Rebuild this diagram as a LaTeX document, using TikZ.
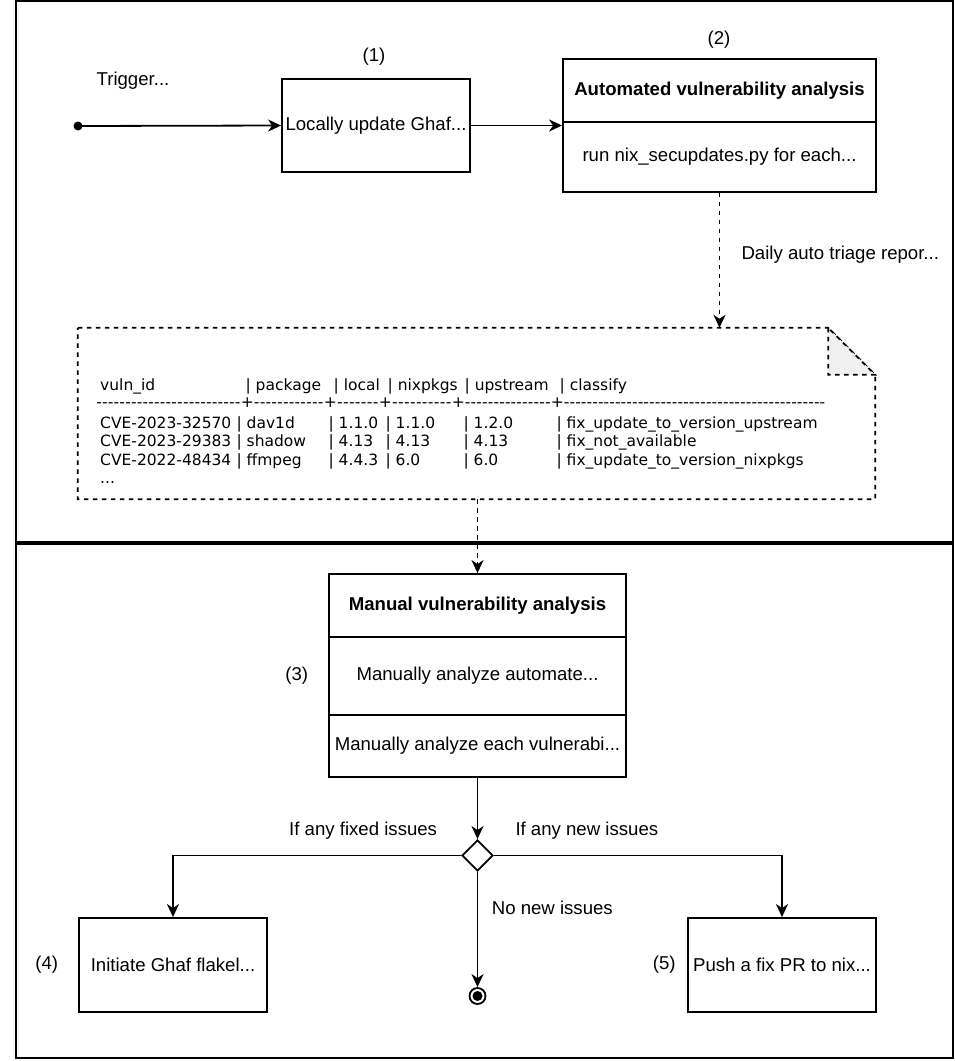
\documentclass[tikz,border=0pt]{standalone}
\usepackage{fontspec}
\setmainfont{Liberation Sans}
\newfontfamily\tablefont{DejaVu Sans}
\usetikzlibrary{arrows.meta,shapes.geometric}

\newcommand{\flowsize}{\fontsize{18.6}{22}\selectfont}
\newcommand{\tabsize}{\tablefont\fontsize{15.5}{18}\selectfont}
\newcommand{\dashrun}[1]{\hbox to #1pt{\xleaders\hbox{-}\hfill}}
\newcommand{\cverow}[6]{\makebox[136.4pt][l]{#1}\makebox[92pt][l]{| #2}\makebox[57pt][l]{| #3}\makebox[78pt][l]{| #4}\makebox[93pt][l]{| #5}| #6}

\tikzset{
  every node/.style={font=\flowsize},
  frame/.style={draw,line width=1.8pt,inner sep=0pt},
  box/.style={draw,line width=1.8pt,inner sep=0pt,minimum width=188pt,minimum height=94pt},
  part/.style={draw,line width=1.8pt,inner sep=0pt},
  flow/.style={-{Stealth[length=13pt,width=12pt,inset=4pt]},line width=1.8pt},
  dashflow/.style={flow,dash pattern=on 4.5pt off 4.5pt},
  tabline/.style={anchor=base west,inner sep=0pt,font=\tabsize},
  startpt/.style={circle,fill,inner sep=0pt,minimum size=9pt},
  endpt/.style={circle,draw,line width=1.8pt,inner sep=0pt,minimum size=16pt,
    path picture={\fill (path picture bounding box.center) circle (5pt);}},
  decision/.style={diamond,draw,line width=1.8pt,inner sep=0pt,minimum width=31pt,minimum height=31pt}
}

\begin{document}
\begin{tikzpicture}[x=1pt,y=-1pt]
\useasboundingbox (0,0) rectangle (955,1061);

\node [frame,minimum width=937pt,minimum height=541pt] (vuln-top) at (484.5,271.5){};
\node [frame,minimum width=937pt,minimum height=514pt] (vuln-bottom) at (484.5,801){};



\node [startpt] (vuln-start) at (78,126){};
\node [] (vuln-trigger) at (133,81){Trigger...};

\node [] (vuln-step-1) at (374,57){(1)};
\node [box,minimum height=93pt] (vuln-update) at (376,125.5){Locally update Ghaf...};
\draw [flow]   (vuln-start.center) -- (vuln-update.west);

\node [] (vuln-step-2) at (719,40){(2)};
\node [part,minimum width=313pt,minimum height=63pt] (vuln-auto-title) at (719.5,90.5){\bfseries Automated vulnerability analysis};
\node [part,minimum width=313pt,minimum height=70pt] (vuln-auto-body) at (719.5,157){run nix\_secupdates.py for each...};
\draw [flow]   (vuln-update.east) -- (vuln-update.east -| vuln-auto-body.west);



\node [minimum width=797pt,minimum height=171pt,inner sep=0pt] (vuln-report) at (476.5,413.5){};
\draw [line width=1.8pt,dash pattern=on 4.5pt off 4.5pt]   (vuln-report.north west) -- ([xshift=-47pt]vuln-report.north east) -- ([yshift=-47pt]vuln-report.north east) -- (vuln-report.south east) -- (vuln-report.south west) -- cycle;
\filldraw [fill=gray!12,line width=1.8pt,dash pattern=on 4.5pt off 4.5pt]   ([xshift=-47pt]vuln-report.north east) -- ([xshift=-47pt,yshift=-47pt]vuln-report.north east) -- ([yshift=-47pt]vuln-report.north east) -- cycle;

\draw [dashflow]   (vuln-auto-body.south) -- (vuln-auto-body.south |- vuln-report.north);
\node [anchor=west] (vuln-daily) at (738,255){Daily auto triage repor...};

\node [tabline] (vuln-head) at (100,390.6){\makebox[145.4pt][l]{vuln\_id}\makebox[88pt][l]{| package}\makebox[54pt][l]{| local}\makebox[77pt][l]{| nixpkgs}\makebox[95pt][l]{| upstream}| classify};
\node [tabline] (vuln-rule) at (96,407.2){\dashrun{144.5}+\dashrun{70}+\dashrun{42}+\dashrun{60}+\dashrun{86}+\dashrun{261.5}};
\node [tabline] (vuln-row-1) at (100,428.6){\cverow{CVE-2023-32570}{dav1d}{1.1.0}{1.1.0}{1.2.0}{fix\_update\_to\_version\_upstream}};
\node [tabline] (vuln-row-2) at (100,446.6){\cverow{CVE-2023-29383}{shadow}{4.13}{4.13}{4.13}{fix\_not\_available}};
\node [tabline] (vuln-row-3) at (100,465.6){\cverow{CVE-2022-48434}{ffmpeg}{4.4.3}{6.0}{6.0}{fix\_update\_to\_version\_nixpkgs}};
\node [tabline] (vuln-row-more) at (100,483){...};


%%%%%%%%%%%%%%%%%%%%%%%%%%%%%%%%%%%%%%%%%%%%%%%%%%%%%%%%%%%%%%%%%


\node [part,minimum width=297pt,minimum height=63pt] (vuln-manual-title) at (477.5,605.5){\bfseries Manual vulnerability analysis};
\draw [dashflow]   (vuln-manual-title.north |- vuln-report.south) -- (vuln-manual-title.north);

\node [part,minimum width=297pt,minimum height=78pt] (vuln-manual-auto) at (477.5,676){Manually analyze automate...};
\node [part,minimum width=297pt,minimum height=62pt] (vuln-manual-each) at (477.5,746){Manually analyze each vulnerabi...};
\node [] (vuln-step-3) at (296.7,675.7){(3)};

\node [decision] (vuln-decide) at (477.5,855.5){};
\draw [flow]   (vuln-manual-each.south) -- (vuln-decide.north);

\node [anchor=west] (vuln-fixed-lbl) at (285.7,831){If any fixed issues};
\node [anchor=east] (vuln-new-lbl) at (661.7,831){If any new issues};
\node [anchor=west] (vuln-none-lbl) at (488.3,908){No new issues};

\node [box] (vuln-flake) at (173,965){Initiate Ghaf flakel...};
\node [] (vuln-step-4) at (46.7,965){(4)};
\draw [flow]   (vuln-decide.west) -| (vuln-flake.north);

\node [box] (vuln-fixpr) at (782,965){Push a fix PR to nix...};
\node [] (vuln-step-5) at (664.3,965){(5)};
\draw [flow]   (vuln-decide.east) -| (vuln-fixpr.north);

\node [endpt] (vuln-end) at (477.5,996){};
\draw [flow]   (vuln-decide.south) -- (vuln-end.north);

\end{tikzpicture}
\end{document}
